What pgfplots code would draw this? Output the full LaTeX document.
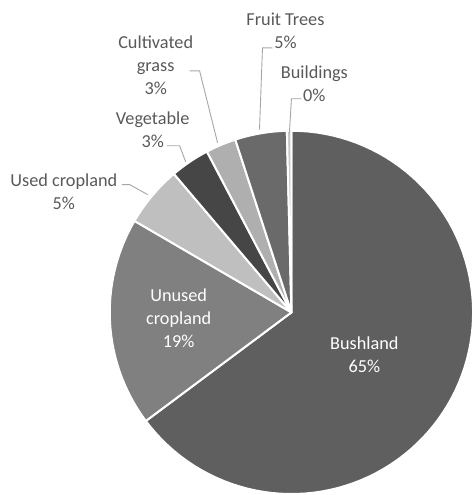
\documentclass[border=0pt]{standalone}
\usepackage{pgfplots}
\pgfplotsset{compat=1.18}
\usepackage{fontspec}
\setmainfont{Carlito}

\definecolor{txt}{HTML}{595959}
\definecolor{lead}{HTML}{A6A6A6}
\definecolor{cBush}{HTML}{5F5F5F}
\definecolor{cUnused}{HTML}{808080}
\definecolor{cUsed}{HTML}{BFBFBF}
\definecolor{cVeg}{HTML}{464646}
\definecolor{cGrass}{HTML}{AFAFAF}
\definecolor{cFruit}{HTML}{6A6A6A}
\definecolor{cBuild}{HTML}{C8C8C8}

\tikzset{lbl/.style={font=\fontsize{18.3}{23}\selectfont, align=center, inner sep=0pt}}

% pie centre and radius, in picture pixels (axis units)
\def\cx{292}
\def\cy{182}
\def\rr{182}

% #1 = share before this slice (%), #2 = share of this slice (%), #3 = colour
\newcommand\slice[3]{%
  \pgfmathsetmacro\angA{3.6*#1}%
  \pgfmathsetmacro\angB{3.6*(#1+#2)}%
  \addplot[fill=#3, draw=white, line width=2pt, line join=round,
    domain=\angA:\angB, samples=90, variable=\t]
    ({\cx+\rr*sin(\t)}, {\cy+\rr*cos(\t)}) -- (axis cs:\cx,\cy) -- cycle;
}

\begin{document}
\begin{tikzpicture}
\begin{axis}[
  width=475pt, height=495pt, scale only axis,
  xmin=0, xmax=475, ymin=0, ymax=495,
  hide axis, clip=false,
]
  \path (axis cs:0,0) (axis cs:475,495);

  % slices, clockwise from 12 o'clock
  \slice{0}{64.8}{cBush}
  \slice{64.8}{18.6}{cUnused}
  \slice{83.4}{5.4}{cUsed}
  \slice{88.8}{3.5}{cVeg}
  \slice{92.3}{2.7}{cGrass}
  \slice{95.0}{4.6}{cFruit}
  \slice{99.6}{0.4}{cBuild}

  % labels inside
  \node[lbl, text=white] at (axis cs:365,140) {Bushland\\65\%};
  \node[lbl, text=white] at (axis cs:179,176) {Unused\\cropland\\19\%};

  % leader lines
  \draw[lead, line width=0.9pt] (axis cs:273,447) -- (axis cs:263,447) -- (axis cs:260,365);
  \draw[lead, line width=0.9pt] (axis cs:302,396) -- (axis cs:292,396) -- (axis cs:290,362);
  \draw[lead, line width=0.9pt] (axis cs:190,424) -- (axis cs:200,424) -- (axis cs:218,352);
  \draw[lead, line width=0.9pt] (axis cs:167,349) -- (axis cs:180,349) -- (axis cs:186,333);
  \draw[lead, line width=0.9pt] (axis cs:122,310) -- (axis cs:130,310) -- (axis cs:148,300);

  % labels outside
  \node[lbl, text=txt] at (axis cs:286,464) {Fruit Trees\\5\%};
  \node[lbl, text=txt] at (axis cs:315,411) {Buildings\\0\%};
  \node[lbl, text=txt] at (axis cs:156,430) {Cultivated\\grass\\3\%};
  \node[lbl, text=txt] at (axis cs:153,365) {Vegetable\\3\%};
  \node[lbl, text=txt] at (axis cs:64,303) {Used cropland\\5\%};
\end{axis}
\end{tikzpicture}
\end{document}
